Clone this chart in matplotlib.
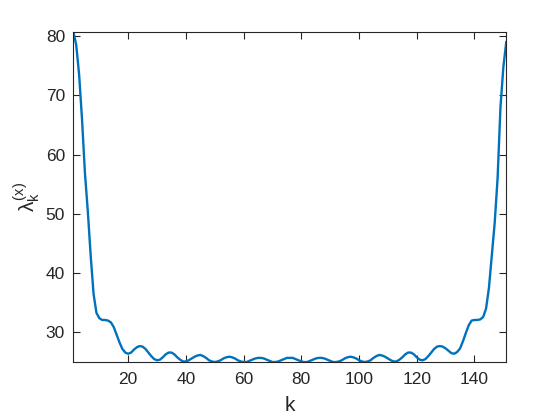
import numpy as np
import matplotlib
matplotlib.use("Agg")
import matplotlib.pyplot as plt

plt.rcParams['font.family'] = ['Liberation Sans', 'DejaVu Sans']
plt.rcParams['mathtext.fontset'] = 'custom'
plt.rcParams['mathtext.rm'] = 'Liberation Sans'
plt.rcParams['mathtext.it'] = 'Liberation Sans'
plt.rcParams['mathtext.bf'] = 'Liberation Sans:bold'

# eigenvalue index
k = np.arange(1, 152)

# values, k = 1 .. 151
lam = [
    80.8, 78.5, 73.5, 66.0, 57.0, 50.5, 43.0, 36.5, 33.3, 32.4,   # 1-10
    32.1, 32.1, 32.0, 31.7, 30.9, 29.6, 28.3, 27.2, 26.6, 26.4,   # 11-20
    26.6, 27.1, 27.5, 27.7, 27.6, 27.2, 26.6, 26.0, 25.5, 25.3,   # 21-30
    25.4, 25.8, 26.3, 26.6, 26.6, 26.3, 25.8, 25.4, 25.1, 25.1,   # 31-40
    25.3, 25.6, 25.9, 26.1, 26.2, 26.0, 25.7, 25.3, 25.1, 25.0,   # 41-50
    25.1, 25.3, 25.6, 25.8, 25.9, 25.8, 25.6, 25.3, 25.1, 25.0,   # 51-60
    25.0, 25.2, 25.4, 25.6, 25.7, 25.7, 25.6, 25.4, 25.2, 25.0,   # 61-70
    25.0, 25.1, 25.3, 25.5, 25.7, 25.7, 25.7, 25.5, 25.3, 25.1,   # 71-80
    25.0, 25.0, 25.2, 25.4, 25.6, 25.7, 25.7, 25.6, 25.4, 25.2,   # 81-90
    25.0, 25.0, 25.1, 25.3, 25.6, 25.8, 25.9, 25.8, 25.6, 25.3,   # 91-100
    25.1, 25.0, 25.1, 25.3, 25.7, 26.0, 26.2, 26.1, 25.9, 25.6,   # 101-110
    25.3, 25.1, 25.1, 25.4, 25.8, 26.3, 26.6, 26.6, 26.3, 25.8,   # 111-120
    25.4, 25.3, 25.5, 26.0, 26.6, 27.2, 27.6, 27.7, 27.6, 27.3,   # 121-130
    26.9, 26.5, 26.4, 26.7, 27.3, 28.5, 29.9, 31.2, 32.0, 32.1,   # 131-140
    32.1, 32.2, 32.6, 34.0, 37.5, 43.0, 48.5, 56.0, 68.0, 74.8,   # 141-150
    79.0,                                                         # 151
]

xticks = [20, 40, 60, 80, 100, 120, 140]
yticks = [30, 40, 50, 60, 70, 80]

fig = plt.figure(figsize=(5.6, 4.2), dpi=100)
ax = fig.add_axes([0.131, 0.138, 0.773, 0.787])

ax.plot(k, lam, color='#0072BD', linewidth=1.7)

ax.set_xlim(1, 151)
ax.set_ylim(25, 80.8)
ax.set_xticks(xticks)
ax.set_yticks(yticks)

dark = '#262626'
for s in ax.spines.values():
    s.set_color(dark)
    s.set_linewidth(0.8)
ax.tick_params(direction='in', top=True, right=True, length=5, width=0.8,
               color=dark, labelcolor=dark, labelsize=12.5)
ax.tick_params(axis='x', pad=7)
ax.tick_params(axis='y', pad=6)

ax.set_xlabel('k', fontsize=15, color=dark, labelpad=7)
ax.set_ylabel(r'$\lambda_k^{(x)}$', fontsize=15, color=dark, labelpad=2)

fig.savefig('out.png', dpi=100)
